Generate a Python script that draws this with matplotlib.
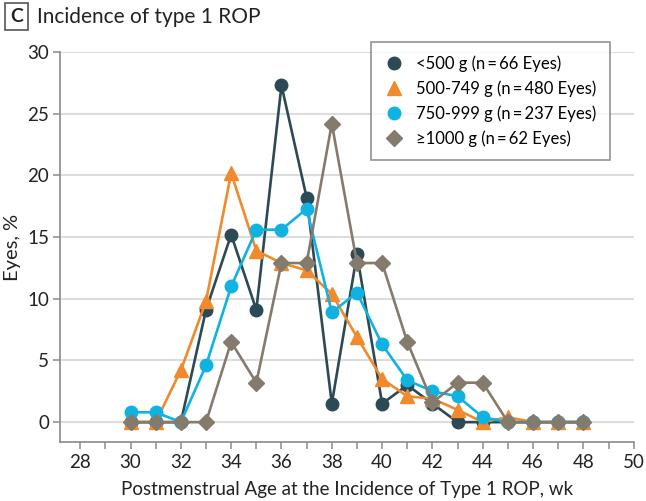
import matplotlib
matplotlib.use("Agg")
import matplotlib.pyplot as plt
from matplotlib.ticker import MultipleLocator

# -------------------------------
# DATA (percent of eyes per week)
# -------------------------------
weeks = list(range(30, 49))

lt500 = [0, 0, 0, 9.1, 15.2, 9.1, 27.3, 18.2, 1.5, 13.6, 1.5, 3.0, 1.5, 0, 0, 0, 0, 0, 0]
g500_749 = [0, 0, 4.2, 9.8, 20.2, 13.9, 12.9, 12.3, 10.4, 6.9, 3.5, 2.1, 1.9, 1.0, 0, 0.4, 0, 0, 0]
g750_999 = [0.8, 0.8, 0, 4.6, 11.0, 15.6, 15.6, 17.3, 8.9, 10.5, 6.3, 3.4, 2.5, 2.1, 0.4, 0, 0, 0, 0]
ge1000 = [0, 0, 0, 0, 6.5, 3.2, 12.9, 12.9, 24.2, 12.9, 12.9, 6.5, 1.6, 3.2, 3.2, 0, 0, 0, 0]

labels = ["<500 g (n\u2009=\u200966 Eyes)", "500-749 g (n\u2009=\u2009480 Eyes)",
          "750-999 g (n\u2009=\u2009237 Eyes)", "\u22651000 g (n\u2009=\u200962 Eyes)"]
colors = ["#2c4a56", "#f08a2c", "#10b3e0", "#857b6d"]
markers = ["o", "^", "o", "D"]
msizes = [9, 9.5, 9, 8]

plt.rcParams['font.family'] = ['Lato', 'DejaVu Sans']

fig = plt.figure(figsize=(6.46, 5.01), dpi=100)
ax = fig.add_axes([0.093, 0.118, 0.888, 0.778])

series = [lt500, g500_749, g750_999, ge1000]
for i, s in enumerate(series):
    ax.plot(weeks, s, color=colors[i], marker=markers[i], markersize=msizes[i],
            linewidth=1.9, label=labels[i], zorder=3 + i, clip_on=False)

ax.set_xlim(27.2, 50)
ax.set_ylim(-1.6, 30)
ax.xaxis.set_major_locator(MultipleLocator(2))
ax.xaxis.set_minor_locator(MultipleLocator(1))
ax.set_yticks(range(0, 31, 5))
ax.yaxis.grid(True, color="#dcdcdc", linewidth=1.5, zorder=0)
ax.set_axisbelow(True)

for side in ["top", "right"]:
    ax.spines[side].set_visible(False)
for side in ["left", "bottom"]:
    ax.spines[side].set_color("#8a8a8a")
    ax.spines[side].set_linewidth(1.2)

ax.tick_params(axis="both", which="both", color="#8a8a8a", length=5, width=1.1,
               labelsize=13.5, labelcolor="#222222")
ax.tick_params(axis="x", pad=4)
ax.tick_params(axis="y", pad=3)

ax.set_xlabel("Postmenstrual Age at the Incidence of Type 1 ROP, wk", fontsize=13.5,
              color="#222222", labelpad=7)
ax.set_ylabel("Eyes, %", fontsize=14.5, color="#222222", labelpad=4)

# legend placed in figure pixels: upper right corner near (610, 42)
leg = ax.legend(loc="upper right", bbox_to_anchor=(610 / 646, 1 - 42 / 501),
                bbox_transform=fig.transFigure, fontsize=12,
                frameon=True, fancybox=False, edgecolor="#777777",
                handlelength=1.2, handletextpad=0.75, borderpad=0.8,
                labelspacing=0.5, borderaxespad=0)
leg.get_frame().set_linewidth(1.2)
leg.set_zorder(10)
for h in leg.legend_handles:
    h.set_linestyle("none")

# panel label
fig.text(0.0255, 0.967, "C", fontsize=14, fontweight="bold", color="#222222",
         ha="center", va="center",
         bbox=dict(boxstyle="square,pad=0.25", facecolor="white", edgecolor="#555555",
                   linewidth=1.2))
fig.text(0.058, 0.967, "Incidence of type 1 ROP", fontsize=15, color="#222222",
         ha="left", va="center")

fig.savefig("out.png", dpi=100)
